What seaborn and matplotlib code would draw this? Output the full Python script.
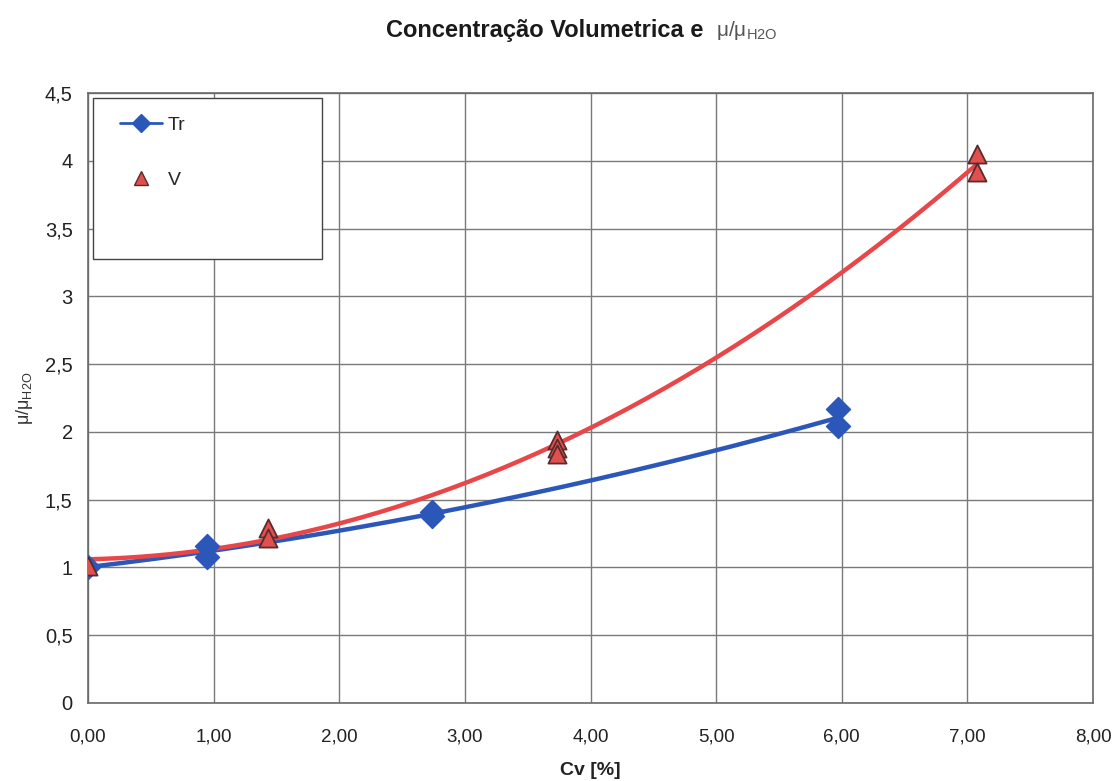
import numpy as np
import pandas as pd
import matplotlib
matplotlib.use("Agg")
import matplotlib.pyplot as plt
from matplotlib.lines import Line2D
from matplotlib.patches import Rectangle
import seaborn as sns

# Measured points: volumetric concentration Cv [%] vs relative viscosity
tr_cv = [0.00, 0.95, 0.95, 2.74, 2.74, 5.97, 5.97]
tr_mu = [1.00, 1.16, 1.08, 1.41, 1.38, 2.17, 2.04]
v_cv = [0.00, 1.43, 1.43, 3.73, 3.73, 3.73, 7.08, 7.08]
v_mu = [1.01, 1.29, 1.22, 1.94, 1.88, 1.84, 4.05, 3.92]

x_ticks = [0, 1, 2, 3, 4, 5, 6, 7, 8]
y_ticks = [0, 0.5, 1, 1.5, 2, 2.5, 3, 3.5, 4, 4.5]
x_tick_labels = ["0,00", "1,00", "2,00", "3,00", "4,00", "5,00", "6,00", "7,00", "8,00"]
y_tick_labels = ["0", "0,5", "1", "1,5", "2", "2,5", "3", "3,5", "4", "4,5"]

BLUE = "#2b58b8"
RED = "#e8474a"
RED_FILL = "#e0504f"
RED_EDGE = "#5b2b2b"

sns.set_style("white")
plt.rcParams["font.family"] = ["Liberation Sans", "DejaVu Sans"]

W, H = 1114, 781

tr = pd.DataFrame({"cv": tr_cv, "mu": tr_mu})
v = pd.DataFrame({"cv": v_cv, "mu": v_mu})

# Second-order trend lines through each series
tr_coef = np.polyfit(tr["cv"], tr["mu"], 2)
v_coef = np.polyfit(v["cv"], v["mu"], 2)
tr_x = np.linspace(tr["cv"].min(), tr["cv"].max(), 200)
v_x = np.linspace(v["cv"].min(), v["cv"].max(), 200)
tr_fit = pd.DataFrame({"cv": tr_x, "mu": np.polyval(tr_coef, tr_x)})
v_fit = pd.DataFrame({"cv": v_x, "mu": np.polyval(v_coef, v_x)})

fig = plt.figure(figsize=(W / 100, H / 100), dpi=100)
ax = fig.add_axes([88 / W, 1 - 703 / H, (1093 - 88) / W, (703 - 93) / H])

sns.lineplot(data=tr_fit, x="cv", y="mu", ax=ax, color=BLUE, linewidth=3.2, zorder=3)
sns.lineplot(data=v_fit, x="cv", y="mu", ax=ax, color=RED, linewidth=3.2, zorder=4)
sns.scatterplot(data=tr, x="cv", y="mu", ax=ax, marker="D", s=150, color=BLUE,
                edgecolor=BLUE, linewidth=1, zorder=5)
sns.scatterplot(data=v, x="cv", y="mu", ax=ax, marker="^", s=170, color=RED_FILL,
                edgecolor=RED_EDGE, linewidth=1.3, zorder=6)

ax.set_xlim(0, 8)
ax.set_ylim(0, 4.5)
ax.set_xticks(x_ticks)
ax.set_xticklabels(x_tick_labels)
ax.set_yticks(y_ticks)
ax.set_yticklabels(y_tick_labels)
ax.grid(True, color="#7a7a7a", linewidth=1.0)
ax.set_axisbelow(True)
for s in ax.spines.values():
    s.set_color("#6a6a6a")
    s.set_linewidth(1.2)
ax.tick_params(axis="both", direction="out", length=6, width=1, color="#6a6a6a",
               labelsize=13.5, labelcolor="#222222")
ax.tick_params(axis="x", pad=12)
ax.tick_params(axis="y", labelsize=14.5, pad=5)

ax.set_xlabel("Cv [%]", fontsize=14, fontweight="bold", color="#222222", labelpad=12)
ax.set_ylabel("μ/μ$_{\\mathregular{H2O}}$", fontsize=13, color="#333333", labelpad=7)

# Title: bold text followed by the viscosity ratio
fig.text(703 / W, 1 - 30 / H, "Concentração Volumetrica e", ha="right", va="center",
         fontsize=17, fontweight="bold", color="#1a1a1a")
fig.text(716 / W, 1 - 30 / H, "μ/μ$_{\\mathregular{H2O}}$", ha="left", va="center",
         fontsize=15, color="#555555")

# Legend frame drawn at a fixed size, entries placed inside it
fig.patches.append(Rectangle((93 / W, 1 - 259 / H), (322 - 93) / W, (259 - 98) / H,
                             transform=fig.transFigure, facecolor="white",
                             edgecolor="#444444", linewidth=1.0, zorder=10))
handles = [
    Line2D([0], [0], color=BLUE, linewidth=2, marker="D", markersize=9,
           markerfacecolor=BLUE, markeredgecolor=BLUE),
    Line2D([0], [0], color="none", marker="^", markersize=10,
           markerfacecolor=RED_FILL, markeredgecolor=RED_EDGE),
]
leg = fig.legend(handles, ["Tr", "V"], loc="upper left",
                 bbox_to_anchor=(120 / W, 1 - 116 / H),
                 frameon=False, fontsize=14, handlelength=2.15,
                 labelspacing=1.95, borderpad=0, borderaxespad=0,
                 handletextpad=0.3)
leg.set_zorder(11)

fig.savefig("out.png", dpi=100, facecolor="white")
